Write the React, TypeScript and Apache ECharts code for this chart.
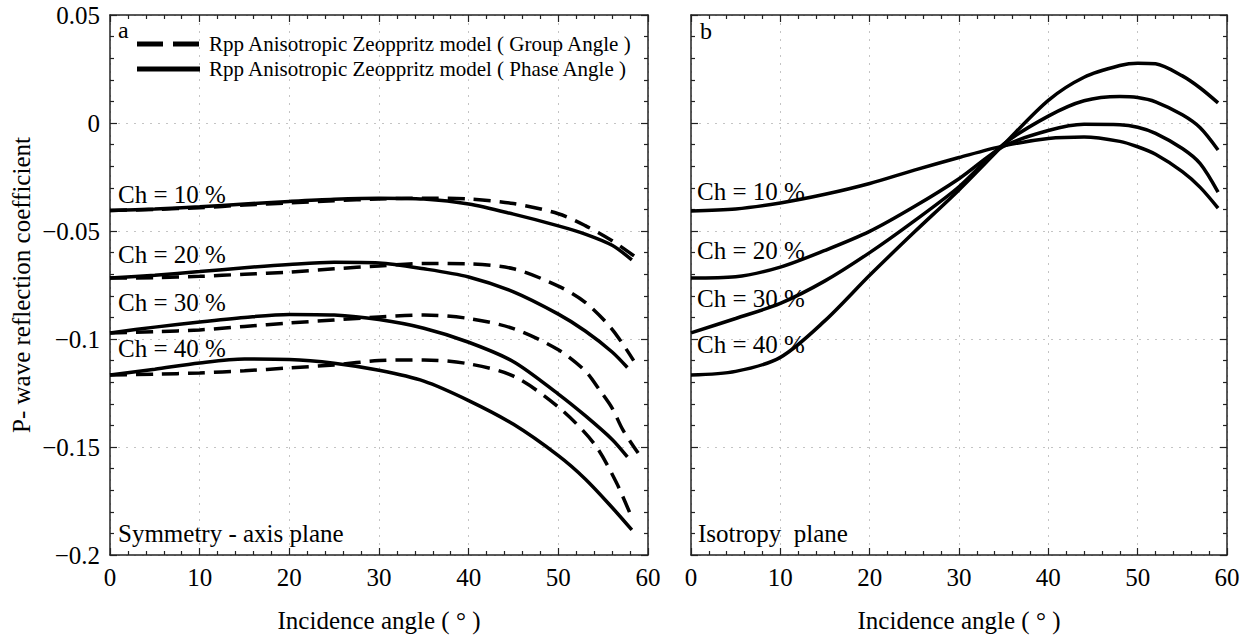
import React, { useEffect, useRef } from "react";
import * as echarts from "echarts";

// ---------- data ----------
const chLabels = ["Ch = 10 %", "Ch = 20 %", "Ch = 30 %", "Ch = 40 %"];
const xTicks = [0, 10, 20, 30, 40, 50, 60];
const yTicks = [0.05, 0, -0.05, -0.1, -0.15, -0.2];

// Panel a : symmetry-axis plane, phase angle (solid)
const aSolidAngles10 = [0, 5, 10, 15, 20, 25, 30, 35, 40, 45, 50, 53, 56, 58.2];
const aSolid10 = [-0.0405, -0.0398, -0.0388, -0.0375, -0.0363, -0.0353, -0.0348, -0.0352, -0.0375, -0.0422, -0.0476, -0.0514, -0.0566, -0.0634];
const aSolidAngles20 = [0, 5, 10, 15, 20, 25, 30, 35, 40, 45, 50, 53, 56, 57.7];
const aSolid20 = [-0.0718, -0.0705, -0.0688, -0.067, -0.0655, -0.0645, -0.0648, -0.0675, -0.0713, -0.0782, -0.0885, -0.0963, -0.106, -0.1132];
const aSolidAngles30 = [0, 5, 10, 15, 20, 25, 30, 35, 40, 45, 50, 53, 56, 57.7];
const aSolid30 = [-0.0972, -0.0945, -0.0921, -0.09, -0.0886, -0.0889, -0.091, -0.095, -0.1015, -0.1105, -0.1255, -0.1355, -0.1465, -0.1546];
const aSolidAngles40 = [0, 5, 10, 15, 20, 25, 30, 35, 40, 45, 50, 53, 56, 58.2];
const aSolid40 = [-0.1167, -0.114, -0.1111, -0.1093, -0.1095, -0.1112, -0.1145, -0.1195, -0.1285, -0.1395, -0.154, -0.1648, -0.178, -0.1884];

// Panel a : symmetry-axis plane, group angle (dashed)
const aDashAngles10 = [0, 5, 10, 15, 20, 25, 30, 35, 40, 45, 50, 53, 56, 58.8];
const aDash10 = [-0.0405, -0.04, -0.0392, -0.038, -0.037, -0.036, -0.0352, -0.0348, -0.0352, -0.0373, -0.042, -0.0475, -0.0545, -0.0626];
const aDashAngles20 = [0, 5, 10, 15, 20, 25, 30, 35, 40, 45, 50, 53, 56, 58.4];
const aDash20 = [-0.0718, -0.0716, -0.071, -0.07, -0.069, -0.0675, -0.0662, -0.065, -0.0652, -0.0675, -0.0755, -0.083, -0.0955, -0.11];
const aDashAngles30 = [0, 5, 10, 15, 20, 25, 30, 35, 40, 45, 50, 53, 54.6, 56, 57.2, 58.9];
const aDash30 = [-0.0972, -0.0966, -0.0958, -0.0942, -0.0926, -0.0912, -0.0898, -0.0889, -0.0905, -0.0952, -0.105, -0.1148, -0.1236, -0.132, -0.1421, -0.1528];
const aDashAngles40 = [0, 5, 10, 15, 20, 25, 30, 35, 40, 45, 50, 54, 56.5, 58.3];
const aDash40 = [-0.1167, -0.1163, -0.1157, -0.1147, -0.1134, -0.112, -0.11, -0.1097, -0.1115, -0.1172, -0.1315, -0.1485, -0.1667, -0.1838];

// Panel b : isotropy plane (solid)
const bAngles = [0, 5, 10, 15, 20, 25, 30, 35, 40, 44, 48, 50, 52, 55, 57, 59];
const b10 = [-0.0407, -0.0398, -0.037, -0.033, -0.028, -0.0218, -0.016, -0.0106, -0.0072, -0.0065, -0.0085, -0.011, -0.0145, -0.0225, -0.0298, -0.0394];
const b20 = [-0.0718, -0.0712, -0.0667, -0.059, -0.0502, -0.0387, -0.0258, -0.0108, -0.0035, -0.0006, -0.0008, -0.002, -0.0048, -0.0118, -0.0188, -0.032];
const b30 = [-0.0972, -0.0905, -0.0835, -0.0731, -0.06, -0.0453, -0.0295, -0.0098, 0.0032, 0.0103, 0.0123, 0.0118, 0.0098, 0.0038, -0.0022, -0.0125];
const b40 = [-0.1167, -0.115, -0.1085, -0.0915, -0.0705, -0.0505, -0.031, -0.01, 0.0105, 0.0212, 0.0266, 0.0277, 0.0274, 0.0218, 0.0162, 0.0093];

const legendGroup = "Rpp Anisotropic Zeoppritz model ( Group Angle )";
const legendPhase = "Rpp Anisotropic Zeoppritz model ( Phase Angle )";
const xTitle = "Incidence angle ( \u00b0 )";
const yTitle = "P- wave reflection coefficient";

// ---------- helpers ----------
const FONT = "'Liberation Serif', 'Times New Roman', Times, 'DejaVu Serif', serif";
const zip = (xs: number[], ys: number[]) => xs.map((x, i) => [x, ys[i]]);
const fmtY = (v: number) => {
  const r = Math.round(v * 100) / 100;
  return r < 0 ? "\u2212" + String(-r) : String(r);
};

const GRIDS = [
  { left: 110, top: 15, width: 538, height: 540 },
  { left: 691, top: 15, width: 536, height: 540 },
];

const GRIDLINE = { color: "#c4c4c4", width: 1, type: [2, 6] };
const AXIS_LINE = { show: true, onZero: false, lineStyle: { color: "#222", width: 1.5 } };
const TICK = { show: true, inside: true, length: 7, lineStyle: { color: "#222", width: 1.2 } };
const MINOR = { show: true, splitNumber: 5, length: 4, lineStyle: { color: "#222", width: 1.2 } };

function xAxis(gridIndex: number, position: "bottom" | "top", labels: boolean) {
  return {
    type: "value",
    gridIndex,
    position,
    min: 0,
    max: 60,
    interval: 10,
    name: labels ? xTitle : "",
    nameLocation: "middle",
    nameGap: 53,
    nameTextStyle: { fontFamily: FONT, fontSize: 25, color: "#000" },
    axisLine: AXIS_LINE,
    axisTick: TICK,
    minorTick: MINOR,
    axisLabel: {
      show: labels,
      margin: 10,
      fontFamily: FONT,
      fontSize: 25,
      color: "#000",
      showMinLabel: true,
      showMaxLabel: true,
      formatter: (v: number) => (xTicks.includes(v) ? String(v) : ""),
    },
    splitLine: { show: position === "bottom", lineStyle: GRIDLINE },
  };
}

function yAxis(gridIndex: number, position: "left" | "right", labels: boolean) {
  return {
    type: "value",
    gridIndex,
    position,
    min: -0.2,
    max: 0.05,
    interval: 0.05,
    name: labels ? yTitle : "",
    nameLocation: "middle",
    nameGap: 76,
    nameTextStyle: { fontFamily: FONT, fontSize: 25, color: "#000" },
    axisLine: AXIS_LINE,
    axisTick: TICK,
    minorTick: MINOR,
    axisLabel: {
      show: labels,
      margin: 10,
      fontFamily: FONT,
      fontSize: 25,
      color: "#000",
      showMinLabel: true,
      showMaxLabel: true,
      formatter: (v: number) => (yTicks.some((t) => Math.abs(t - v) < 1e-9) ? fmtY(v) : ""),
    },
    splitLine: { show: position === "left", lineStyle: GRIDLINE },
  };
}

function lineSeries(name: string, data: number[][], axisIdx: number, dashed: boolean) {
  return {
    name,
    type: "line",
    xAxisIndex: axisIdx,
    yAxisIndex: axisIdx,
    data,
    showSymbol: false,
    symbol: "none",
    smooth: 0.3,
    lineStyle: { color: "#000", width: 3.5, type: dashed ? [17, 9] : "solid" },
    z: dashed ? 3 : 4,
  };
}

function txt(text: string, x: number, y: number, size = 25) {
  return {
    type: "text",
    x,
    y,
    z: 10,
    style: { text, fontFamily: FONT, fontSize: size, fill: "#000", align: "left", verticalAlign: "middle" },
  };
}

export default function App() {
  const ref = useRef<HTMLDivElement>(null);
  useEffect(() => {
    if (!ref.current) return;
    const chart = echarts.init(ref.current, undefined, { renderer: "svg" });
    const leftLabelY = [194, 254, 302, 348];
    const rightLabelY = [191, 250, 298, 344];
    const option = {
      animation: false,
      backgroundColor: "#fff",
      textStyle: { fontFamily: FONT },
      grid: GRIDS,
      xAxis: [
        xAxis(0, "bottom", true),
        xAxis(0, "top", false),
        xAxis(1, "bottom", true),
        xAxis(1, "top", false),
      ],
      yAxis: [
        yAxis(0, "left", true),
        yAxis(0, "right", false),
        yAxis(1, "left", false),
        yAxis(1, "right", false),
      ],
      series: [
        lineSeries("Group 10%", zip(aDashAngles10, aDash10), 0, true),
        lineSeries("Group 20%", zip(aDashAngles20, aDash20), 0, true),
        lineSeries("Group 30%", zip(aDashAngles30, aDash30), 0, true),
        lineSeries("Group 40%", zip(aDashAngles40, aDash40), 0, true),
        lineSeries("Phase 10%", zip(aSolidAngles10, aSolid10), 0, false),
        lineSeries("Phase 20%", zip(aSolidAngles20, aSolid20), 0, false),
        lineSeries("Phase 30%", zip(aSolidAngles30, aSolid30), 0, false),
        lineSeries("Phase 40%", zip(aSolidAngles40, aSolid40), 0, false),
        lineSeries("Iso 10%", zip(bAngles, b10), 2, false),
        lineSeries("Iso 20%", zip(bAngles, b20), 2, false),
        lineSeries("Iso 30%", zip(bAngles, b30), 2, false),
        lineSeries("Iso 40%", zip(bAngles, b40), 2, false),
      ],
      graphic: [
        // legend
        { type: "line", z: 10, shape: { x1: 137, y1: 44, x2: 200, y2: 44 }, style: { stroke: "#000", lineWidth: 5, lineDash: [26, 10] } },
        { type: "line", z: 10, shape: { x1: 137, y1: 69, x2: 200, y2: 69 }, style: { stroke: "#000", lineWidth: 5 } },
        txt(legendGroup, 209, 44, 21),
        txt(legendPhase, 209, 69, 21),
        // panel letters
        txt("a", 118, 30, 24),
        txt("b", 700, 31, 24),
        // curve labels
        ...chLabels.map((t, i) => txt(t, 118, leftLabelY[i])),
        ...chLabels.map((t, i) => txt(t, 697, rightLabelY[i])),
        // plane names
        txt("Symmetry - axis plane", 118, 533),
        txt("Isotropy  plane", 698, 533),
      ],
    };
    chart.setOption(option as any);
    return () => chart.dispose();
  }, []);
  return (
    <div
      ref={ref}
      style={{ position: "fixed", left: 0, top: 0, width: 1252, height: 639, background: "#fff" }}
    />
  );
}
